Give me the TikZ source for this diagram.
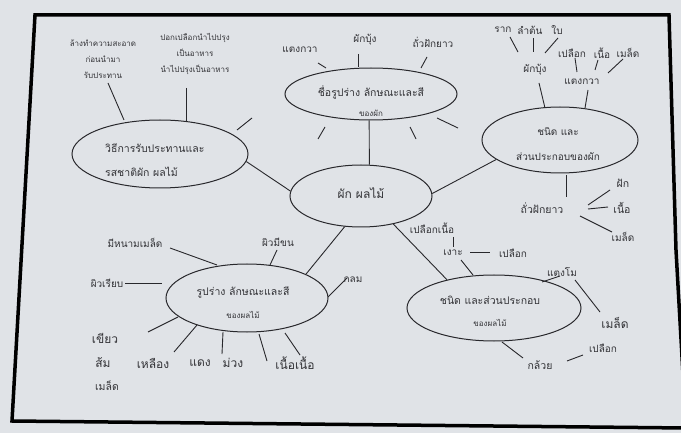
\documentclass[tikz,border=0pt]{standalone}
\usepackage{fontspec}
\newfontfamily\thaif[Script=Thai]{Loma}
\usetikzlibrary{shapes.geometric}
\definecolor{paper}{RGB}{224,227,231}
\definecolor{ink}{RGB}{40,40,44}
\definecolor{txt}{RGB}{50,50,54}
\tikzset{
  ell/.style={draw=ink, line width=1pt, ellipse, inner sep=0pt},
  ln/.style={draw=ink, line width=0.9pt},
  tx/.style={text=txt, inner sep=0pt, font=\thaif\fontsize{10}{11}\selectfont},
  tt/.style={text=txt, inner sep=0pt, font=\thaif\fontsize{8}{16}\selectfont, align=center},
  tb/.style={text=txt, inner sep=0pt, font=\thaif\fontsize{12}{13}\selectfont},
  tm/.style={text=txt, inner sep=0pt, font=\thaif\fontsize{10.5}{12}\selectfont},
}
\begin{document}
\begin{tikzpicture}[x=1pt,y=-1pt]
\fill[paper] (0,0) rectangle (681,433);
\useasboundingbox (0,0) rectangle (681,433);
% frame
\draw[black, line width=3.5pt, line join=miter] (35,15) -- (669,15) -- (676,250) -- (686,428) -- (12,421) -- cycle;

% ellipses
\node[ell, minimum width=142pt, minimum height=62pt] (cen) at (361,196) {};
\node[ell, minimum width=172pt, minimum height=52pt] (vshape) at (371,94) {};
\node[ell, minimum width=176pt, minimum height=68pt] (eat) at (160,154) {};
\node[ell, minimum width=156pt, minimum height=66pt] (vpart) at (560,140) {};
\node[ell, minimum width=162pt, minimum height=68pt] (fshape) at (247,298) {};
\node[ell, minimum width=174pt, minimum height=66pt] (fpart) at (494,308) {};

% ellipse texts
\node[tb] (tcen) at (361,193) {ผัก ผลไม้};
\node[tm] (tvs1) at (371,92) {ชื่อรูปร่าง ลักษณะและสี};
\node[tt] (tvs2) at (371,113) {ของผัก};
\node[tm, anchor=west] (tea1) at (105,148) {วิธีการรับประทานและ};
\node[tm, anchor=west] (tea2) at (105,172) {รสชาติผัก ผลไม้};
\node[tx] (tvp1) at (558,132) {ชนิด และ};
\node[tx] (tvp2) at (558,157) {ส่วนประกอบของผัก};
\node[tm] (tfs1) at (243,292) {รูปร่าง ลักษณะและสี};
\node[tt] (tfs2) at (243,315) {ของผลไม้};
\node[tm] (tfp1) at (490,300) {ชนิด และส่วนประกอบ};
\node[tt] (tfp2) at (490,323) {ของผลไม้};

% main connectors
\draw[ln] (cen.75.5) -- (vshape.266);
\draw[ln] (cen.2) -- (vpart.197);
\draw[ln] (cen.176.7) -- (eat.-5.7);
\draw[ln] (cen.242) -- (fshape.22);
\draw[ln] (cen.319) -- (fpart.149.4);

% ---- labels
% top ellipse
\node[tx] (l1) at (300,50) {แตงกวา};
\node[tx] (l2) at (365,40) {ผักบุ้ง};
\node[tx] (l3) at (433,42) {ถั่วฝักยาว};
% left ellipse
\node[tt] (l4) at (103,59) {ล้างทำความสะอาด\\ก่อนนำมา\\รับประทาน};
\node[tt] (l5) at (195,54) {ปอกเปลือกนำไปปรุง\\เป็นอาหาร\\นำไปปรุงเป็นอาหาร};
% right ellipse
\node[tx] (l6) at (503,30) {ราก};
\node[tx] (l7) at (530,30) {ลำต้น};
\node[tx] (l8) at (557,30) {ใบ};
\node[tx] (l9) at (535,70) {ผักบุ้ง};
\node[tx] (l10) at (582,82) {แตงกวา};
\node[tx] (l11) at (572,53) {เปลือก};
\node[tx] (l12) at (602,53) {เนื้อ};
\node[tx] (l13) at (628,53) {เมล็ด};
\node[tm] (l14) at (542,208) {ถั่วฝักยาว};
\node[tm] (l15) at (623,183) {ฝัก};
\node[tm] (l16) at (622,208) {เนื้อ};
\node[tx] (l17) at (623,237) {เมล็ด};
% lower-left ellipse
\node[tx] (l18) at (135,243) {มีหนามเมล็ด};
\node[tx] (l19) at (278,242) {ผิวมีขน};
\node[tx] (l20) at (107,283) {ผิวเรียบ};
\node[tx] (l21) at (353,280) {กลม};
\node[tb] (l22) at (105,338) {เขียว};
\node[tb] (l23) at (103,363) {ส้ม};
\node[tm] (l24) at (107,386) {เมล็ด};
\node[tb] (l25) at (153,363) {เหลือง};
\node[tb] (l26) at (200,363) {แดง};
\node[tb] (l27) at (233,363) {ม่วง};
\node[tb] (l28) at (295,363) {เนื้อเนื้อ};
% lower-right ellipse
\node[tx] (l29) at (432,228) {เปลือกเนื้อ};
\node[tx] (l30) at (453,253) {เงาะ};
\node[tx] (l31) at (513,253) {เปลือก};
\node[tx] (l32) at (562,272) {แตงโม};
\node[tb] (l33) at (615,323) {เมล็ด};
\node[tm] (l34) at (540,365) {กล้วย};
\node[tx] (l35) at (603,348) {เปลือก};

% ---- spokes (named end points)
\foreach \n/\xa/\ya/\xb/\yb in {
  s1/318/63/326/68, s2/358/54/358/67, s3/427/57/421/68,
  s4/108/83/124/120, s5/186/88/186/122,
  s6/510/37/518/52, s7/533/38/533/52, s8/558/38/545/53,
  s9/539/83/545/108, s10/588/90/585/108,
  s11/575/58/577/72, s12/598/60/595/70, s13/623/59/608/73,
  s14/566/175/566/197, s15/588/205/610/190, s16/588/209/608/207, s17/580/216/612/232,
  s18/170/248/217/265, s19/277/250/270/265, s20/125/283/162/283, s21/347/278/328/297,
  s22/148/332/178/317, s23/174/352/197/325, s24/222/354/223/332, s25/267/361/259/334, s26/300/355/285/333,
  s27/453/237/453/247, s28/461/260/473/275, s29/470/252/490/252,
  s30/542/282/560/276, s31/575/280/600/312, s32/502/342/523/358, s33/567/361/583/355,
  r1/237/130/252/118, r2/458/128/437/118, r3/325/127/318/139, r4/410/127/416/139}
{
  \coordinate (\n a) at (\xa,\ya);
  \coordinate (\n b) at (\xb,\yb);
  \draw[ln] (\n a) -- (\n b);
}
\end{tikzpicture}
\end{document}
